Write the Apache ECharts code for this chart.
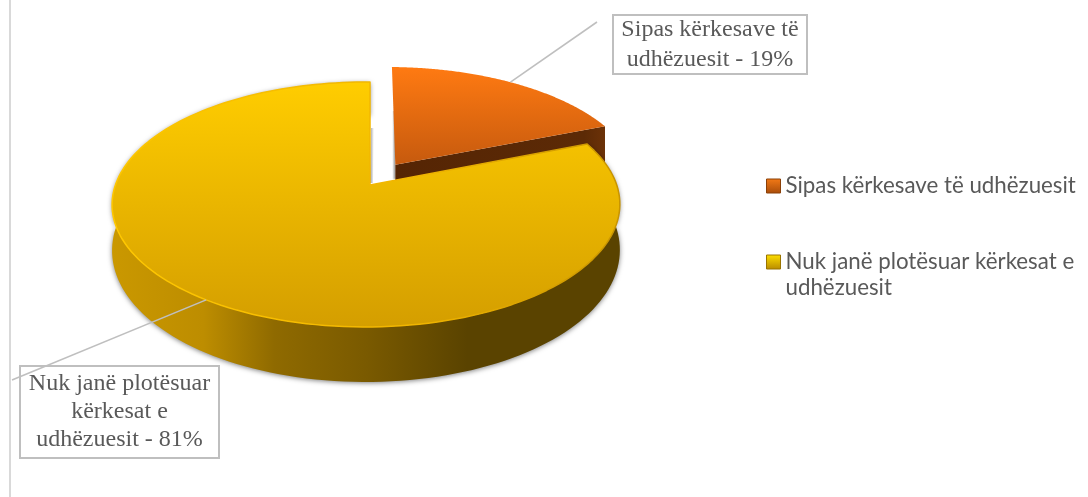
<!DOCTYPE html>
<html><head><meta charset="utf-8">
<style>html,body{margin:0;padding:0;background:#fff}#c{width:1088px;height:497px}</style>
<script src="https://cdn.jsdelivr.net/npm/echarts@6/dist/echarts.min.js"></script>
</head><body><div id="c"></div>
<script>
const categories = ['Sipas kërkesave të udhëzuesit', 'Nuk janë plotësuar kërkesat e udhëzuesit'];
const shares = [19, 81];
const calloutLines = [['Sipas kërkesave të', 'udhëzuesit - 19%'], ['Nuk janë plotësuar', 'kërkesat e', 'udhëzuesit - 81%']];

const total = shares.reduce((a, b) => a + b, 0);
const G = echarts.graphic.LinearGradient;
// Tilted-disc camera (a projective map of the unit disc onto the page)
const cam = { x0: 370, y0: 185, A: 250.6, B: 119.4, p: 0.159, q: 0.0157 };
function proj(u, v) {
  const w = 1 + cam.p * v + cam.q * u;
  return [cam.x0 + cam.A * u / w, cam.y0 - cam.B * v / w];
}
const depth = v => 44 - 11 * v;
function pt(th, r, off) {
  const u = r * Math.sin(th) + off[0], v = r * Math.cos(th) + off[1];
  return { p: proj(u, v), v };
}
function down(q) { return [q.p[0], q.p[1] + depth(q.v)]; }
function arc(a, b, off) {
  const n = 160, out = [];
  for (let i = 0; i <= n; i++) out.push(pt(a + (b - a) * i / n, 1, off));
  return out;
}
const TAU = Math.PI * 2;
const angle0 = shares[0] / total * TAU;
const explode = [0.104, 0.174];
const none = [0, 0];

const labelStyle = { fontFamily: 'Liberation Serif', fontSize: 24, fill: '#595959', align: 'center', verticalAlign: 'middle' };
const grey = '#bfbfbf';
function callout(idx, box, lineH, from, to) {
  const kids = [{ type: 'line', shape: { x1: from[0], y1: from[1], x2: to[0], y2: to[1] }, style: { stroke: grey, lineWidth: 1.6 } },
    { type: 'rect', shape: { x: box[0], y: box[1], width: box[2], height: box[3] }, style: { fill: 'none', stroke: grey, lineWidth: 2 } }];
  const lines = calloutLines[idx];
  lines.forEach((t, i) => kids.push({ type: 'text', style: Object.assign({ text: t, x: box[0] + box[2] / 2,
    y: box[1] + box[3] / 2 + (i - (lines.length - 1) / 2) * lineH }, labelStyle) }));
  return kids;
}

function renderOrange(params, api) {
  const share = api.value(0), b = share / total * TAU;
  const rim = arc(0, b, explode);
  const apex = { p: proj(explode[0], explode[1]), v: explode[1] };
  const end = rim[rim.length - 1];
  const top = [apex.p].concat(rim.map(q => q.p));
  const shadowX = apex.p[0] - 3;
  return { type: 'group', children: [
    { type: 'polygon', shape: { points: [[shadowX, apex.p[1] + 14], [shadowX, rim[0].p[1] + 44], [shadowX + 3, rim[0].p[1] + 44], [shadowX + 3, apex.p[1] + 14]] },
      style: { fill: new G(0, 0, 1, 0, [{ offset: 0, color: 'rgba(120,120,120,0.05)' }, { offset: 1, color: 'rgba(110,110,110,0.75)' }]) } },
    { type: 'polygon', shape: { points: [apex.p, end.p, down(end), down(apex)] },
      style: { fill: new G(0, 0, 1, 0, [{ offset: 0, color: '#552504' }, { offset: 0.9, color: '#5c2a06' }, { offset: 1, color: '#6c3208' }]) } },
    { type: 'polygon', shape: { points: top },
      style: { fill: new G(0, 0, 0, 1, [{ offset: 0, color: '#ff7a12' }, { offset: 1, color: '#c65a0e' }]) } }
  ].concat(callout(0, [613, 15, 194, 59], 30, pt(b * 0.49, 1, explode).p, [597, 22])) };
}

function renderYellow(params, api) {
  const share = api.value(0), a = angle0, b = a + share / total * TAU;
  const rim = arc(a, b, none);
  const apex = proj(0, 0);
  const wall = rim.map(q => q.p).concat(rim.slice().reverse().map(down));
  const last = rim[rim.length - 1].p;
  return { type: 'group', children: [
    { type: 'polygon', shape: { points: [[apex[0], apex[1] - 2], [last[0] + 1, last[1] + 46], [last[0] + 4, last[1] + 46], [apex[0] + 3, apex[1] - 2]] },
      style: { fill: new G(0, 0, 1, 0, [{ offset: 0, color: 'rgba(110,110,110,0.7)' }, { offset: 1, color: 'rgba(120,120,120,0)' }]) } },
    { type: 'polygon', shape: { points: wall },
      style: { shadowBlur: 5, shadowOffsetY: 1, shadowColor: 'rgba(0,0,0,0.5)', fill: new G(0, 0, 1, 0, [
        { offset: 0, color: '#ca9800' }, { offset: 0.18, color: '#bd8d00' }, { offset: 0.32, color: '#8f6a00' },
        { offset: 0.5, color: '#7a5a00' }, { offset: 0.7, color: '#5a4300' }, { offset: 1, color: '#5a4300' }]) } },
    { type: 'polygon', shape: { points: [apex].concat(rim.map(q => q.p)) },
      style: { lineWidth: 1.5, lineJoin: 'round',
        stroke: new G(0, 0, 1, 0, [{ offset: 0, color: '#ffc800' }, { offset: 0.6, color: '#f0b400' }, { offset: 1, color: '#c89400' }]),
        fill: new G(0, 0, 0, 1, [{ offset: 0, color: '#ffcd00' }, { offset: 1, color: '#d49e00' }]) } }
  ].concat(callout(1, [20, 366, 199, 92], 28, pt(a + share / total * TAU * 0.5, 1, none).p, [12, 380])) };
}

const chart = echarts.init(document.getElementById('c'));
const swatch = (c1, c2) => new G(0, 0, 0, 1, [{ offset: 0, color: c1 }, { offset: 1, color: c2 }]);
chart.setOption({
  animation: false,
  legend: {
    orient: 'vertical', left: 766, top: 173, padding: 0, itemGap: 24, itemWidth: 14, itemHeight: 14, icon: 'rect',
    textStyle: { fontFamily: 'Lato', fontSize: 22.3, color: '#595959', lineHeight: 26 },
    data: [
      { name: categories[0], itemStyle: { color: swatch('#f47a16', '#a84c0a'), borderColor: '#8a4008', borderWidth: 1 } },
      { name: categories[1], itemStyle: { color: swatch('#ffe000', '#b88a00'), borderColor: '#9a7400', borderWidth: 1 } }
    ],
    formatter: n => n === categories[1] ? '\nNuk janë plotësuar kërkesat e\nudhëzuesit' : n
  },
  graphic: [{ type: 'line', silent: true, shape: { x1: 10, y1: 0, x2: 10, y2: 497 }, style: { stroke: '#d9d9d9', lineWidth: 2 } }],
  series: [
    { type: 'custom', name: categories[0], coordinateSystem: 'none', renderItem: renderOrange, data: [[shares[0]]], z: 2 },
    { type: 'custom', name: categories[1], coordinateSystem: 'none', renderItem: renderYellow, data: [[shares[1]]], z: 3 }
  ]
});
</script></body></html>
